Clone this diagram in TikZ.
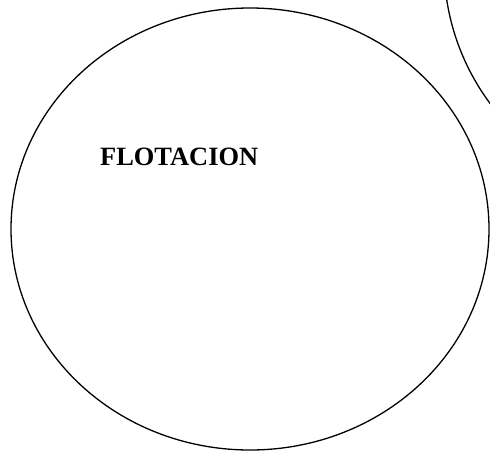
\documentclass[tikz,border=0pt]{standalone}
\usepackage{fontspec}
\setmainfont{Liberation Serif}
\begin{document}
\begin{tikzpicture}[x=1pt,y=-1pt,
  outline/.style={draw=black,line width=1.3pt},
  label/.style={font=\fontsize{26.4}{30}\selectfont\bfseries,inner sep=0pt,anchor=base west}]
\useasboundingbox (0,0) rectangle (490,451);
\begin{scope}
\clip (0,0) rectangle (490,451);
\draw[outline] (250,229) ellipse [x radius=239, y radius=221];
\draw[outline] (678,-36) circle [radius=234];
\end{scope}
\node[label] (flot) at (100,165) {FLOTACION};
\end{tikzpicture}
\end{document}
